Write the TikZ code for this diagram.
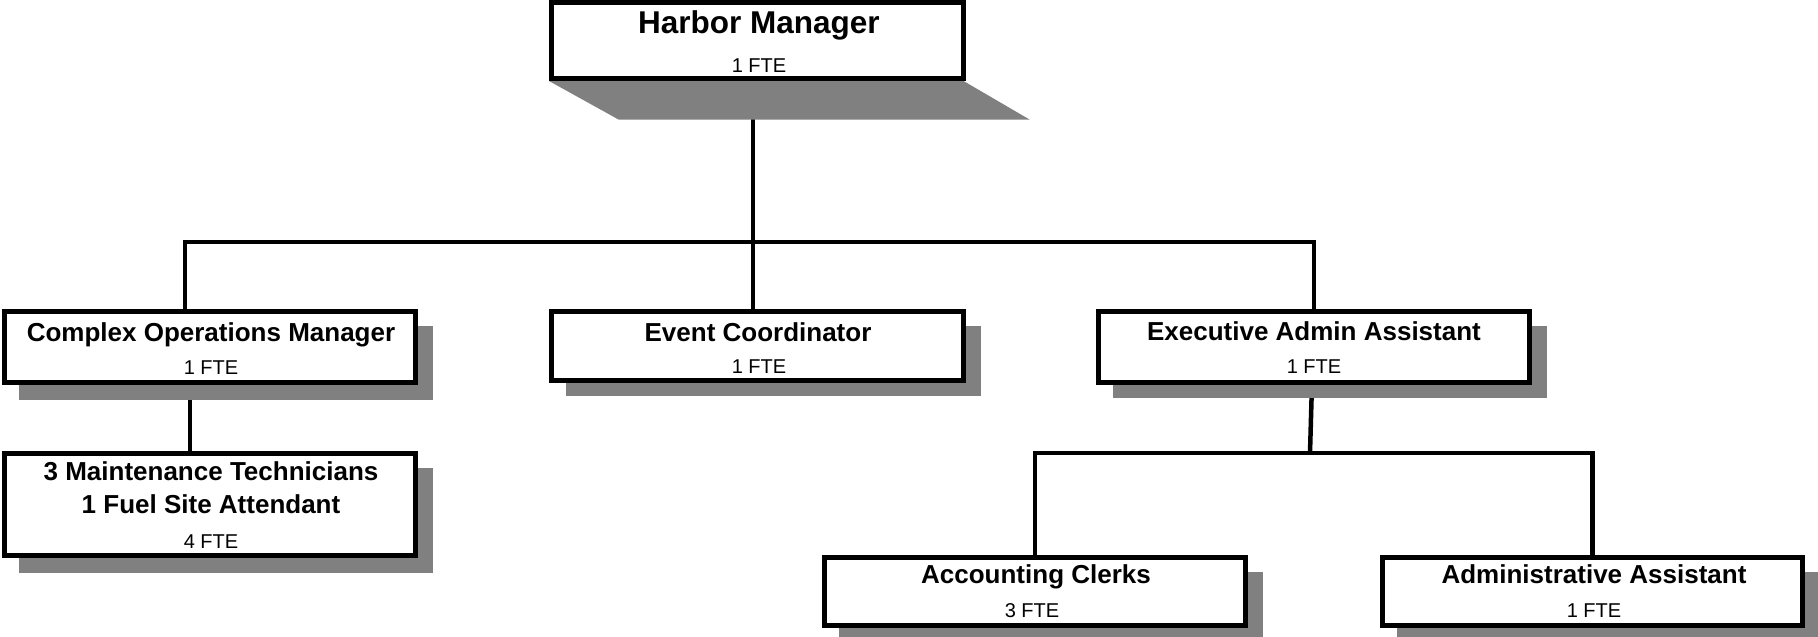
\documentclass[tikz,border=0pt]{standalone}
\usepackage{fontspec}
\setmainfont{Liberation Sans}
\usetikzlibrary{calc}
\pgfdeclarelayer{lines}
\pgfdeclarelayer{shade}
\pgfsetlayers{lines,shade,main}
\definecolor{shadowc}{HTML}{808080}
\tikzset{
  box/.style={draw=black, line width=5pt, fill=white, rectangle, inner sep=0pt, outer sep=0pt},
  title/.style={font=\bfseries\fontsize{26}{28}\selectfont, anchor=base, inner sep=0pt},
  bigtitle/.style={font=\bfseries\fontsize{31.5}{34}\selectfont, anchor=base, inner sep=0pt},
  fte/.style={font=\fontsize{20}{22}\selectfont, anchor=base, inner sep=0pt},
  conn/.style={draw=black, line width=4.5pt, line join=miter},
  shadowbox/.style={fill=shadowc}
}
\begin{document}
\begin{tikzpicture}[x=1pt,y=-1pt]
\useasboundingbox (0,0) rectangle (1818,637);

% boxes
\node[box, minimum width=412pt, minimum height=76pt] (hm) at (757.5,40.5) {};
\node[box, minimum width=411pt, minimum height=71pt] (com) at (210,347) {};
\node[box, minimum width=412pt, minimum height=69pt] (ev) at (757.5,346) {};
\node[box, minimum width=431pt, minimum height=71pt] (ea) at (1314,347) {};
\node[box, minimum width=411pt, minimum height=102pt] (mt) at (210,504.5) {};
\node[box, minimum width=421pt, minimum height=68pt] (ac) at (1035,591.5) {};
\node[box, minimum width=420pt, minimum height=68pt] (aa) at (1592.5,591.5) {};

% texts
\node[bigtitle] (hmt) at (759,33) {Harbor Manager};
\node[fte] (hmf) at (759,72) {1 FTE};
\node[title] (comt) at (211,341) {Complex Operations Manager};
\node[fte] (comf) at (211,374) {1 FTE};
\node[title] (evt) at (758,341) {Event Coordinator};
\node[fte] (evf) at (759,373) {1 FTE};
\node[title] (eat) at (1314,340) {Executive Admin Assistant};
\node[fte] (eaf) at (1314,373) {1 FTE};
\node[title] (mt1) at (211,480) {3 Maintenance Technicians};
\node[title] (mt2) at (211,513) {1 Fuel Site Attendant};
\node[fte] (mtf) at (211,548) {4 FTE};
\node[title] (act) at (1036,583) {Accounting Clerks};
\node[fte] (acf) at (1032,617) {3 FTE};
\node[title] (aat) at (1594,583) {Administrative Assistant};
\node[fte] (aaf) at (1594,617) {1 FTE};

\coordinate (bus) at (1314,242);
\coordinate (bus2) at (1310,453);

% shadows
\begin{pgfonlayer}{shade}
\fill[shadowbox] ([shift={(-2.5,2.5)}]hm.south west) -- ([shift={(0,2.5)}]hm.south east)
  -- ([shift={(66,41)}]hm.south east) -- ([shift={(67,41)}]hm.south west) -- cycle;
\foreach \b in {com,mt,ac,aa}{
  \fill[shadowbox] ([shift={(14,14)}]\b.north west) rectangle ([shift={(17,17)}]\b.south east);
}
\foreach \b in {ev,ea}{
  \fill[shadowbox] ([shift={(14,14)}]\b.north west) rectangle ([shift={(17,15)}]\b.south east);
}
\end{pgfonlayer}

% connectors
\begin{pgfonlayer}{lines}
\draw[conn] ([xshift=-4.5pt]hm.center) -- ([xshift=-4.5pt]ev.center);
\draw[conn] ([xshift=-25pt]com.center) |- (bus) -- (ea.center);
\draw[conn] ([xshift=-20pt]com.center) -- ([xshift=-20pt]mt.center);
\draw[conn] ([xshift=-1pt]ea.center) -- (bus2);
\draw[conn] (ac.center) |- (bus2) -| (aa.center);
\end{pgfonlayer}
\end{tikzpicture}
\end{document}
